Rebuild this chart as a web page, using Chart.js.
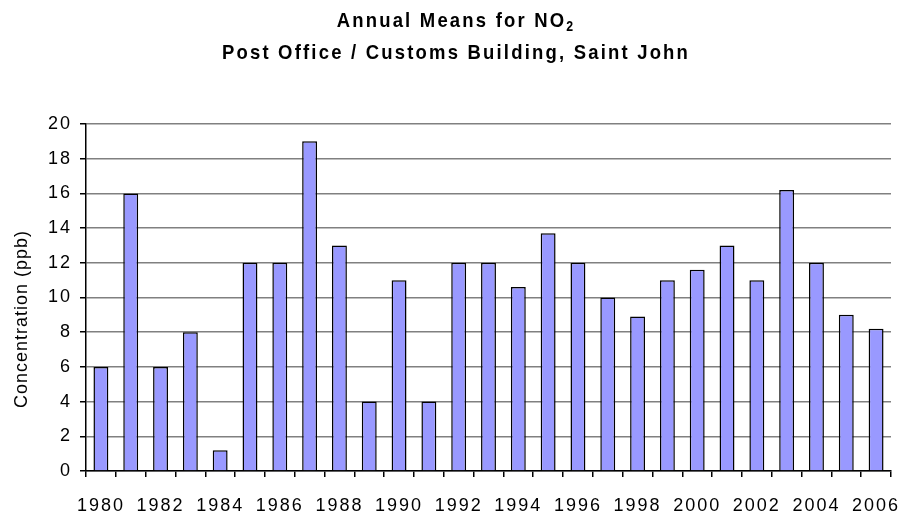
<!DOCTYPE html>
<html>
<head>
<meta charset="utf-8">
<script src="https://cdn.jsdelivr.net/npm/chart.js@4"></script>
<style>
  html, body { margin: 0; padding: 0; background: #fff; }
  #wrap { width: 901px; height: 521px; }
</style>
</head>
<body>
<div id="wrap"><canvas id="no2-chart" width="901" height="521"></canvas></div>
<script>
const years = [
  "1980", "1981", "1982", "1983", "1984", "1985", "1986", "1987", "1988",
  "1989", "1990", "1991", "1992", "1993", "1994", "1995", "1996", "1997",
  "1998", "1999", "2000", "2001", "2002", "2003", "2004", "2005", "2006",
];
const annualMeans = [
  6, 16, 6, 8, 1.2, 12, 12, 19, 13, 4, 11, 4, 12, 12, 10.6, 13.7, 12, 10,
  8.9, 11, 11.6, 13, 11, 16.2, 12, 9, 8.2,
];
const titleMain = "Annual Means for NO";
const titleSub = "2";
const titleLine2 = "Post Office / Customs Building, Saint John";
const yAxisTitle = "Concentration (ppb)";

const FAMILY = "'Liberation Sans', Arial, sans-serif";
const tickFont = { family: FAMILY, size: 18 };

// excel-ish spaced text everywhere
const spacing = {
  id: "spacing",
  beforeDraw(chart) {
    if ("letterSpacing" in chart.ctx) chart.ctx.letterSpacing = "2px";
  },
};

// titles drawn by hand (letter spacing, subscript, squeezed glyphs)
const handTitles = {
  id: "handTitles",
  afterDraw(chart) {
    const ctx = chart.ctx;
    const sx = 0.88;
    ctx.save();
    ctx.fillStyle = "#000";
    ctx.textBaseline = "alphabetic";
    ctx.textAlign = "left";
    if ("letterSpacing" in ctx) ctx.letterSpacing = "2.5px";

    ctx.font = "bold 21px " + FAMILY;
    const w1 = ctx.measureText(titleMain).width;
    ctx.font = "bold 14px " + FAMILY;
    const w1s = ctx.measureText(titleSub).width;
    ctx.font = "bold 21px " + FAMILY;
    const w2 = ctx.measureText(titleLine2).width;

    const cx = 456;
    ctx.save();
    ctx.translate(cx, 0);
    ctx.scale(sx, 1);
    const x1 = -(w1 + w1s) / 2;
    ctx.fillText(titleMain, x1, 27);
    ctx.font = "bold 14px " + FAMILY;
    ctx.fillText(titleSub, x1 + w1, 31);
    ctx.font = "bold 21px " + FAMILY;
    ctx.fillText(titleLine2, -w2 / 2, 59);
    ctx.restore();

    // y axis title
    ctx.font = "18px " + FAMILY;
    if ("letterSpacing" in ctx) ctx.letterSpacing = "1px";
    ctx.textAlign = "center";
    ctx.textBaseline = "middle";
    ctx.translate(22, 319);
    ctx.rotate(-Math.PI / 2);
    ctx.fillText(yAxisTitle, 0, 0);
    ctx.restore();
  },
};

const config = {
  type: "bar",
  data: {
    labels: years,
    datasets: [
      {
        label: "NO2",
        data: annualMeans,
        backgroundColor: "#9999ff",
        borderColor: "#000",
        borderWidth: 1.5,
        categoryPercentage: 1,
        barPercentage: 0.5,
      },
    ],
  },
  options: {
    responsive: false,
    animation: false,
    layout: { padding: { top: 124, right: 10, left: 0, bottom: 0 } },
    plugins: {
      legend: { display: false },
      title: { display: false },
      tooltip: { enabled: false },
    },
    scales: {
      x: {
        grid: {
          offset: true,
          color: (c) => (c.index === years.length ? "#a0a0a0" : "rgba(0,0,0,0)"),
          tickColor: "#000",
          tickLength: 6,
          lineWidth: 1.5,
        },
        border: { color: "#000", width: 1.5 },
        ticks: {
          autoSkip: false,
          maxRotation: 0,
          color: "#000",
          font: tickFont,
          padding: 18,
          callback: (v, i) => (i % 2 === 0 ? years[i] : ""),
        },
        afterFit: (s) => {
          s.height = 50;
          s.paddingLeft = 0;
          s.paddingRight = 0;
        },
      },
      y: {
        min: 0,
        max: 20,
        ticks: { stepSize: 2, color: "#000", font: tickFont, padding: 8 },
        grid: { color: "#808080", lineWidth: 1.5, tickColor: "#000", tickLength: 6 },
        border: { color: "#000", width: 1.5 },
        title: { display: false },
        afterFit: (s) => { s.width = 86; },
      },
    },
  },
  plugins: [spacing, handTitles],
};

const ctx = document.getElementById("no2-chart").getContext("2d");
const no2Chart = new Chart(ctx, config);
</script>
</body>
</html>
